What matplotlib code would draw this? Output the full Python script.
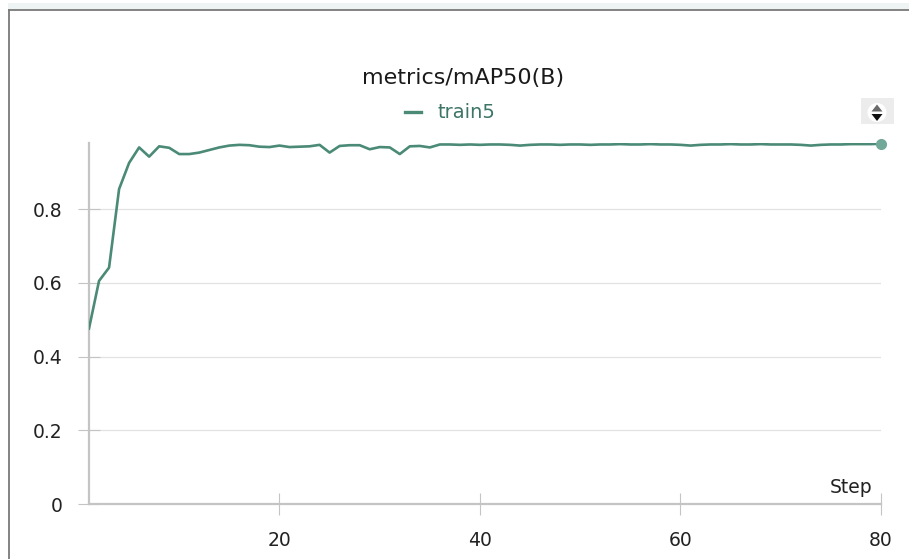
import matplotlib.pyplot as plt
from matplotlib.patches import Rectangle, Polygon, Circle
from matplotlib.lines import Line2D

# данные: шаги и значения метрики
steps = list(range(1, 81))
map50 = [0.476, 0.605, 0.641, 0.854, 0.925, 0.967, 0.942, 0.970, 0.966, 0.949,
         0.949, 0.953, 0.960, 0.967, 0.972, 0.974, 0.973, 0.969, 0.968, 0.972,
         0.968, 0.969, 0.970, 0.974, 0.953, 0.971, 0.973, 0.973, 0.962, 0.968,
         0.967, 0.949, 0.970, 0.971, 0.967, 0.975, 0.975, 0.974, 0.975, 0.974,
         0.975, 0.975, 0.974, 0.972, 0.974, 0.975, 0.975, 0.974, 0.975, 0.975,
         0.974, 0.975, 0.975, 0.976, 0.975, 0.975, 0.976, 0.975, 0.975, 0.974,
         0.972, 0.974, 0.975, 0.975, 0.976, 0.975, 0.975, 0.976, 0.975, 0.975,
         0.975, 0.974, 0.972, 0.974, 0.975, 0.975, 0.976, 0.976, 0.976, 0.977]
series_name = 'train5'
chart_title = 'metrics/mAP50(B)'
x_ticks = [20, 40, 60, 80]
y_ticks = [0, 0.2, 0.4, 0.6, 0.8]
y_labels = ['0', '0.2', '0.4', '0.6', '0.8']

W, H = 909, 559
line_color = '#4a8a76'
axis_color = '#c4c4c4'

fig = plt.figure(figsize=(W / 100, H / 100), dpi=100)

# фон и рамка панели
bg = fig.add_axes([0, 0, 1, 1])
bg.set_xlim(0, W)
bg.set_ylim(H, 0)
bg.axis('off')
bg.add_patch(Rectangle((8, 3), W - 8, 7, color='#eef3f3', lw=0))
bg.add_line(Line2D([9, W], [10, 10], color='#7a7a7a', lw=1.3))
bg.add_line(Line2D([9, 9], [10, H], color='#7a7a7a', lw=1.3))

# кнопка-переключатель справа
bg.add_patch(Rectangle((861, 98), 33, 26, color='#ececec', lw=0))
bg.add_patch(Circle((877, 112.5), 9.5, color='white', lw=0))
bg.add_patch(Polygon([(871.5, 111.5), (882.5, 111.5), (877, 104.5)],
                     closed=True, color='#6a6a6a', lw=0))
bg.add_patch(Polygon([(871.5, 114), (882.5, 114), (877, 121)],
                     closed=True, color='#111111', lw=0))

# заголовок и легенда
fig.text(463 / W, 1 - 78 / H, chart_title, ha='center', va='center',
         fontsize=16, color='#1a1a1a')
bg.add_line(Line2D([405, 421], [112, 112], color=line_color, lw=2.4))
fig.text(437 / W, 1 - 112 / H, series_name, ha='left', va='center',
         fontsize=14, color='#3d7566')

# основной график
ax = fig.add_axes([89 / W, 1 - 504 / H, (881 - 89) / W, (504 - 143) / H])
ax.patch.set_alpha(0)
ax.plot(steps, map50, color=line_color, lw=1.9, zorder=3)
ax.plot(steps[-1], map50[-1], 'o', ms=7, color='#72a898', clip_on=False, zorder=4)

ax.set_xlim(1, 80)
ax.set_ylim(0, 0.979)
ax.set_xticks(x_ticks)
ax.set_yticks(y_ticks)
ax.set_yticklabels(y_labels)

for side in ['top', 'right']:
    ax.spines[side].set_visible(False)
for side in ['left', 'bottom']:
    ax.spines[side].set_color(axis_color)
    ax.spines[side].set_linewidth(1.6)

ax.tick_params(axis='x', direction='inout', length=16.5, width=0.8,
               color=axis_color, pad=11, labelsize=13.5, labelcolor='#222222')
ax.tick_params(axis='y', direction='inout', length=16, width=0.8,
               color=axis_color, pad=11, labelsize=13.5, labelcolor='#222222')
ax.grid(axis='y', color='#e2e2e2', lw=0.9, zorder=0)
ax.grid(axis='x', visible=False)

ax.text(0.9886, 0.047, 'Step', transform=ax.transAxes, ha='right', va='center',
        fontsize=13.5, color='#222222')

fig.savefig('out.png', dpi=100)
